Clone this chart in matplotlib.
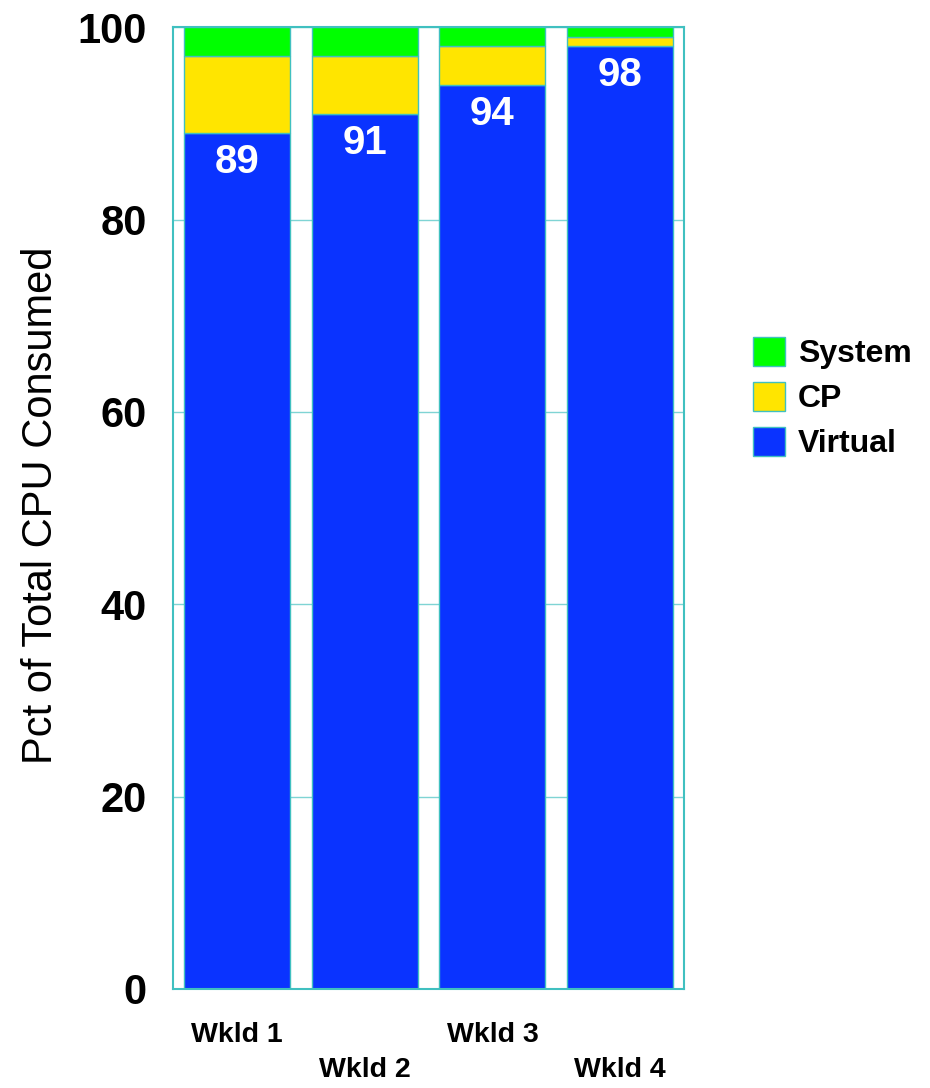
import matplotlib
matplotlib.use("Agg")
import matplotlib.pyplot as plt
from matplotlib.patches import Patch

plt.rcParams['font.family'] = ['Liberation Sans', 'DejaVu Sans']

workloads = ["Wkld 1", "Wkld 2", "Wkld 3", "Wkld 4"]
virtual = [89, 91, 94, 98]
cp = [8, 6, 4, 1]
system = [3, 3, 2, 1]
y_ticks = [0, 20, 40, 60, 80, 100]

c_virtual = "#0A33FF"
c_cp = "#FFE500"
c_system = "#00FF00"
c_edge = "#40C0C0"

fig = plt.figure(figsize=(9.3, 10.88), dpi=100)
ax = fig.add_axes([0.186, 0.091, 0.5495, 0.884])

x = list(range(len(workloads)))
w = 0.83
bottom_cp = virtual
bottom_sys = [v + c for v, c in zip(virtual, cp)]
ax.bar(x, virtual, width=w, color=c_virtual, edgecolor=c_edge, linewidth=1, zorder=2)
ax.bar(x, cp, width=w, bottom=bottom_cp, color=c_cp, edgecolor=c_edge, linewidth=1, zorder=2)
ax.bar(x, system, width=w, bottom=bottom_sys, color=c_system, edgecolor=c_edge, linewidth=1, zorder=2)

for xi, v in zip(x, virtual):
    ax.text(xi, v - 3, str(v), ha="center", va="center", color="white",
            fontsize=29, fontweight="bold", zorder=3)

ax.set_xlim(-0.5, 3.5)
ax.set_ylim(0, 100)
ax.set_yticks(y_ticks)
ax.set_yticklabels([str(t) for t in y_ticks], fontsize=30, fontweight="bold")
ax.tick_params(axis="y", length=0, pad=19)
ax.set_xticks(x)
# alternate labels drop one line lower
ax.set_xticklabels(["Wkld 1", "\nWkld 2", "Wkld 3", "\nWkld 4"],
                   fontsize=20.5, fontweight="bold", linespacing=1.45)
ax.tick_params(axis="x", length=0, pad=24)

fig.text(41 / 930, 0.536, "Pct of Total CPU Consumed", fontsize=30,
         rotation=90, ha="center", va="center")

ax.yaxis.grid(True, color="#7FD4D4", linewidth=1, zorder=0)
ax.set_axisbelow(True)
for s in ax.spines.values():
    s.set_color(c_edge)
    s.set_linewidth(1.5)

handles = [Patch(facecolor=c_system, edgecolor=c_edge, label="System"),
           Patch(facecolor=c_cp, edgecolor=c_edge, label="CP"),
           Patch(facecolor=c_virtual, edgecolor=c_edge, label="Virtual")]
fig.legend(handles=handles, loc="center left", bbox_to_anchor=(0.779, 0.634),
           frameon=False, prop={"size": 23, "weight": "bold"},
           handlelength=1.0, handleheight=1.0, handletextpad=0.4, labelspacing=0.4)

fig.savefig("out.png", dpi=100)
